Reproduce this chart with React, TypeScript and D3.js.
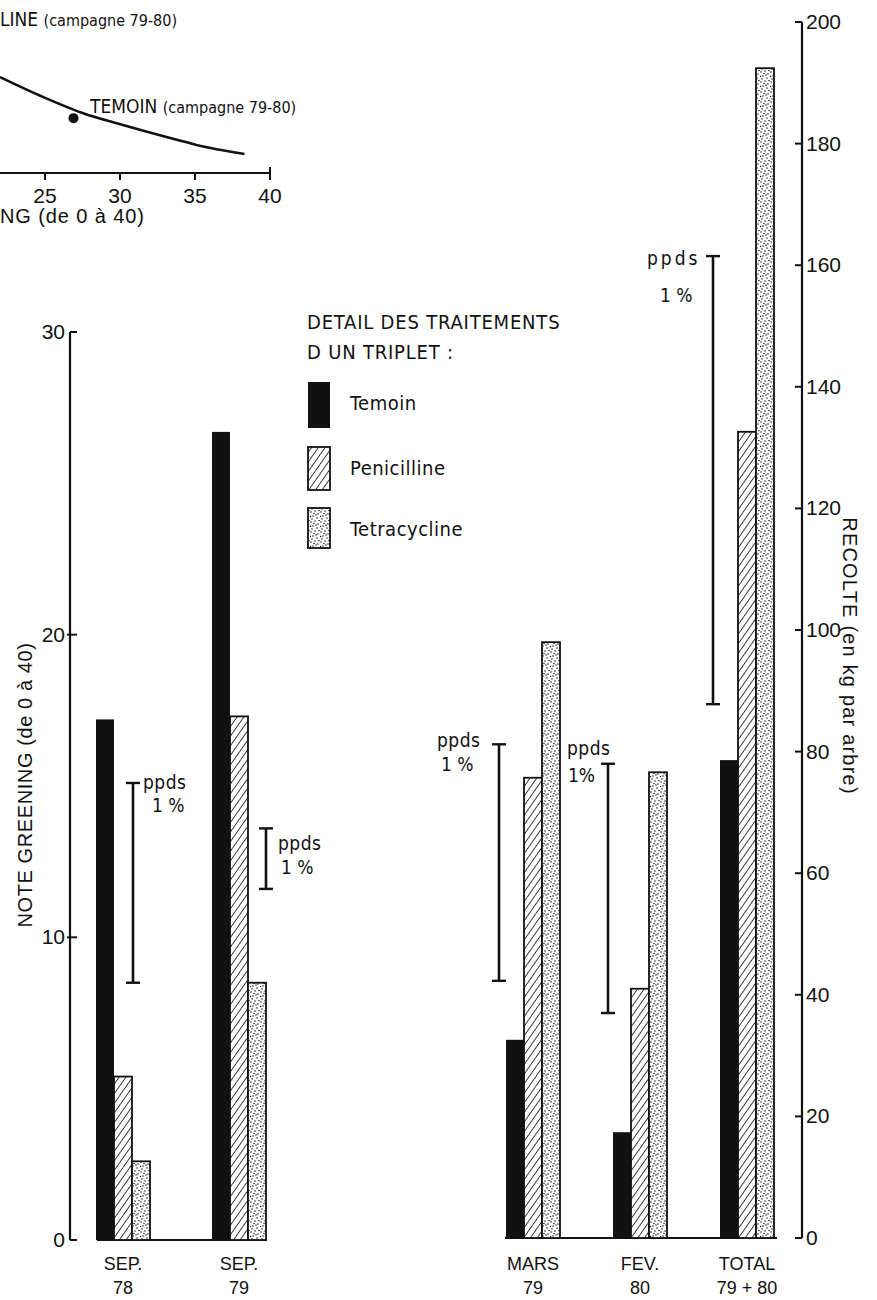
import * as d3 from "d3";

// --- data ---
const series = ["Temoin", "Penicilline", "Tetracycline"];

const greeningCats1 = ["SEP.", "SEP."];
const greeningCats2 = ["78", "79"];
const greeningTemoin = [17.2, 26.7];
const greeningPeni = [5.4, 17.3];
const greeningTetra = [2.6, 8.5];
const greeningPpdsLow = [8.5, 11.6];
const greeningPpdsHigh = [15.1, 13.6];
const greeningTicks = [0, 10, 20, 30];

const recolteCats1 = ["MARS", "FEV.", "TOTAL"];
const recolteCats2 = ["79", "80", "79 + 80"];
const recolteTemoin = [32.6, 17.4, 78.6];
const recoltePeni = [75.7, 41, 132.6];
const recolteTetra = [98, 76.6, 192.4];
const recoltePpdsLow = [42.3, 37, 87.8];
const recoltePpdsHigh = [81.2, 78, 161.5];
const recolteTicks = [0, 20, 40, 60, 80, 100, 120, 140, 160, 180, 200];

// top (cropped) scatter: note greening vs recolte
const curveNote = [22, 24.9, 27.5, 30.2, 33.1, 35.1, 38.3];
const curveRecolte = [43, 34, 26.9, 21.5, 16.1, 12.6, 8.5];
const temoinPoint = { note: 26.9, recolte: 24.6 };
const topTicks = [25, 30, 35, 40];

const NARROW = "'Liberation Sans Narrow', 'DejaVu Sans Condensed', 'Liberation Sans', sans-serif";
const SANS = "'Liberation Sans', Arial, sans-serif";

const stippleDots = [
  [1, 2], [5, 1], [8, 4], [3, 6], [7, 8], [2, 9], [6, 5], [9, 0.5], [4, 3.5], [0.5, 6.5],
];

const fills = ["#111", "url(#hatch)", "url(#stipple)"];

function Ppds({ x, y1, y2, lx, ly, l2x, l2y, spaced, pct }: any) {
  return (
    <g>
      <line x1={x} x2={x} y1={y1} y2={y2} stroke="#111" strokeWidth={2.6} />
      <line x1={x - 7} x2={x + 7} y1={y1} y2={y1} stroke="#111" strokeWidth={2.4} />
      <line x1={x - 7} x2={x + 7} y1={y2} y2={y2} stroke="#111" strokeWidth={2.4} />
      <text x={lx} y={ly} fontFamily={NARROW} fontSize={19} letterSpacing={spaced ? 3 : 0.5} fill="#111">ppds</text>
      <text x={l2x} y={l2y} fontFamily={NARROW} fontSize={19} fill="#111">{pct}</text>
    </g>
  );
}

export default function App() {
  const W = 877;
  const H = 1300;

  // left chart scales
  const yG = d3.scaleLinear().domain([0, 30]).range([1240, 332]);
  const xG = d3.scalePoint<number>().domain(d3.range(greeningTemoin.length)).range([123, 239]);
  // right chart scales
  const yR = d3.scaleLinear().domain([0, 200]).range([1238, 22]);
  const xR = d3.scalePoint<number>().domain(d3.range(recolteTemoin.length)).range([533, 747]);
  const inner = d3.scaleBand<string>().domain(series).range([-27, 27]).padding(0);
  const bw = inner.bandwidth();

  // top cropped chart
  const xT = d3.scaleLinear().domain([25, 40]).range([45, 270]);
  const yT = d3.scaleLinear().domain([0, 100]).range([173, -50]);
  const curve = d3
    .line<number>()
    .x((d, i) => xT(curveNote[i]))
    .y((d, i) => yT(curveRecolte[i]))
    .curve(d3.curveMonotoneX)(curveNote);

  const gVals = [greeningTemoin, greeningPeni, greeningTetra];
  const rVals = [recolteTemoin, recoltePeni, recolteTetra];

  // ppds label placement (layout only)
  const gPpdsLayout = [
    { dx: 10, lx: 10, ly: 6, l2x: 19, l2y: 29, pct: "1 %" },
    { dx: 27, lx: 12, ly: 22, l2x: 15, l2y: 46, pct: "1 %" },
  ];
  const rPpdsLayout = [
    { dx: -34, lx: -62, ly: 3, l2x: -58, l2y: 27, pct: "1 %" },
    { dx: -32, lx: -41, ly: -9, l2x: -40, l2y: 18, pct: "1%" },
    { dx: -34, lx: -66, ly: 9, l2x: -53, l2y: 46, pct: "1 %", spaced: true },
  ];

  const bars = (xs: any, ys: any, vals: number[][]) =>
    vals.map((arr, si) =>
      arr.map((v, ci) => {
        const x = (xs(ci) as number) + (inner(series[si]) as number);
        const y = ys(v);
        const h = ys(0) - y;
        return (
          <g key={`${si}-${ci}`}>
            {si > 0 && <rect x={x} y={y} width={bw} height={h} fill="#fff" />}
            <rect
              x={x}
              y={y}
              width={bw}
              height={h}
              fill={fills[si]}
              stroke="#111"
              strokeWidth={si === 0 ? 0 : 1.8}
            />
          </g>
        );
      })
    );

  return (
    <svg
      width={W}
      height={H}
      viewBox={`0 0 ${W} ${H}`}
      style={{ position: "absolute", left: 0, top: 0, background: "#fff", display: "block" }}
    >
      <defs>
        <pattern id="hatch" width={5.5} height={5.5} patternUnits="userSpaceOnUse" patternTransform="rotate(35)">
          <rect width={5.5} height={5.5} fill="#fff" />
          <line x1={0} y1={0} x2={0} y2={5.5} stroke="#111" strokeWidth={1.6} />
        </pattern>
        <pattern id="stipple" width={10} height={10} patternUnits="userSpaceOnUse">
          <rect width={10} height={10} fill="#fff" />
          {stippleDots.map(([cx, cy], i) => (
            <circle key={i} cx={cx} cy={cy} r={0.75} fill="#111" />
          ))}
        </pattern>
      </defs>

      {/* ---- cropped top chart ---- */}
      <g>
        <text x={0} y={26} fontFamily={NARROW} fontSize={19} fill="#111">
          LINE <tspan fontSize={16}>(campagne 79-80)</tspan>
        </text>
        <path d={curve || ""} fill="none" stroke="#111" strokeWidth={2.6} />
        <circle cx={xT(temoinPoint.note)} cy={yT(temoinPoint.recolte)} r={5} fill="#111" />
        <text x={90} y={113} fontFamily={NARROW} fontSize={19} fill="#111">
          TEMOIN <tspan fontSize={16}>(campagne 79-80)</tspan>
        </text>
        <line x1={0} x2={xT(40)} y1={173} y2={173} stroke="#111" strokeWidth={2.2} />
        {topTicks.map((t) => (
          <g key={t}>
            <line x1={xT(t)} x2={xT(t)} y1={173} y2={180} stroke="#111" strokeWidth={2} />
            <text x={xT(t)} y={203} textAnchor="middle" fontFamily={SANS} fontSize={21} fill="#111">
              {t}
            </text>
          </g>
        ))}
        <line x1={xT(40)} x2={xT(40)} y1={167} y2={173} stroke="#111" strokeWidth={2} />
        <text x={0} y={223} fontFamily={SANS} fontSize={20} letterSpacing={0.9} fill="#111">
          NG (de 0 à 40)
        </text>
      </g>

      {/* ---- left chart: note greening ---- */}
      <line x1={70} x2={70} y1={yG(30)} y2={yG(0)} stroke="#111" strokeWidth={2.2} />
      {greeningTicks.map((t) => (
        <g key={t}>
          <line x1={t === 0 || t === 30 ? 70 : 67} x2={77} y1={yG(t)} y2={yG(t)} stroke="#111" strokeWidth={2} />
          <text x={65} y={yG(t) + 7} textAnchor="end" fontFamily={SANS} fontSize={21} fill="#111">
            {t}
          </text>
        </g>
      ))}
      <text
        transform={`translate(32,${785}) rotate(-90)`}
        textAnchor="middle"
        fontFamily={SANS}
        fontSize={20}
        letterSpacing={0.6}
        fill="#111"
      >
        NOTE GREENING  (de 0 à 40)
      </text>
      <line x1={97} x2={267} y1={yG(0)} y2={yG(0)} stroke="#111" strokeWidth={2} />
      {bars(xG, yG, gVals)}
      {greeningCats1.map((c, i) => (
        <g key={i}>
          <text x={xG(i)} y={1270} textAnchor="middle" fontFamily={SANS} fontSize={18} fill="#111">{c}</text>
          <text x={xG(i)} y={1294} textAnchor="middle" fontFamily={SANS} fontSize={18} fill="#111">{greeningCats2[i]}</text>
        </g>
      ))}
      {greeningPpdsLow.map((lo, i) => {
        const L = gPpdsLayout[i];
        const x = (xG(i) as number) + L.dx;
        const yt = yG(greeningPpdsHigh[i]);
        return (
          <Ppds key={i} x={x} y1={yt} y2={yG(lo)} lx={x + L.lx} ly={yt + L.ly} l2x={x + L.l2x} l2y={yt + L.l2y} pct={L.pct} />
        );
      })}

      {/* ---- legend ---- */}
      <text x={307} y={329} fontFamily={NARROW} fontSize={20} letterSpacing={0.8} fill="#111">DETAIL DES TRAITEMENTS</text>
      <text x={307} y={359} fontFamily={NARROW} fontSize={20} letterSpacing={0.8} fill="#111">D UN TRIPLET :</text>
      {series.map((s, i) => {
        const top = [382, 447, 508][i];
        const h = [46, 43, 40][i];
        return (
          <g key={s}>
            {i > 0 && <rect x={308} y={top} width={22} height={h} fill="#fff" />}
            <rect x={308} y={top} width={22} height={h} fill={fills[i]} stroke="#111" strokeWidth={i === 0 ? 0 : 1.8} />
            <text x={350} y={top + 28} fontFamily={NARROW} fontSize={20} letterSpacing={0.5} fill="#111">{s}</text>
          </g>
        );
      })}

      {/* ---- right chart: recolte ---- */}
      <line x1={802} x2={802} y1={yR(200)} y2={yR(0)} stroke="#111" strokeWidth={2.2} />
      {recolteTicks.map((t) => (
        <g key={t}>
          <line x1={795} x2={802} y1={yR(t)} y2={yR(t)} stroke="#111" strokeWidth={2} />
          <text x={806} y={yR(t) + 7} fontFamily={SANS} fontSize={21} fill="#111">
            {t}
          </text>
        </g>
      ))}
      <text
        transform={`translate(843,${656}) rotate(90)`}
        textAnchor="middle"
        fontFamily={SANS}
        fontSize={20}
        letterSpacing={1.2}
        fill="#111"
      >
        RECOLTE (en kg par arbre)
      </text>
      <line x1={505} x2={777} y1={yR(0)} y2={yR(0)} stroke="#111" strokeWidth={2} />
      {bars(xR, yR, rVals)}
      {recolteCats1.map((c, i) => (
        <g key={i}>
          <text x={xR(i)} y={1270} textAnchor="middle" fontFamily={SANS} fontSize={18} fill="#111">{c}</text>
          <text x={xR(i)} y={1294} textAnchor="middle" fontFamily={SANS} fontSize={18} fill="#111">{recolteCats2[i]}</text>
        </g>
      ))}
      {recoltePpdsLow.map((lo, i) => {
        const L: any = rPpdsLayout[i];
        const x = (xR(i) as number) + L.dx;
        const yt = yR(recoltePpdsHigh[i]);
        return (
          <Ppds key={i} x={x} y1={yt} y2={yR(lo)} lx={x + L.lx} ly={yt + L.ly} l2x={x + L.l2x} l2y={yt + L.l2y} pct={L.pct} spaced={L.spaced} />
        );
      })}
    </svg>
  );
}
